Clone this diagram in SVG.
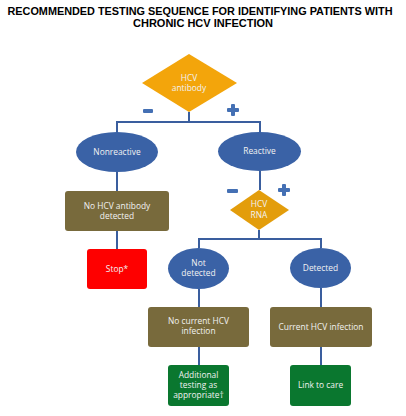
<svg xmlns="http://www.w3.org/2000/svg" width="406" height="416" viewBox="0 0 406 416">
<defs>
<style>
.t{font-family:"Liberation Sans",Arial,sans-serif;font-weight:bold;font-size:11px;fill:#000;text-anchor:middle}
.l{font-family:"Open Sans","Liberation Sans",sans-serif;font-size:8.4px;fill:#F2F2F2;text-anchor:middle}
.ell{fill:#3A62A6}
.box{fill:#786A3C}
.grn{fill:#0A772F}
.dia1{fill:#F3A50B}
.dia2{fill:#E39D0B}
.sign{fill:#4470B4}
.conn{fill:none;stroke:#3A5E9E;stroke-width:2}
</style>
</defs>
<rect width="406" height="416" fill="#fff"/>
<text class="t" x="200" y="15" textLength="385" lengthAdjust="spacingAndGlyphs">RECOMMENDED TESTING SEQUENCE FOR IDENTIFYING PATIENTS WITH</text>
<text class="t" x="203" y="27" textLength="140" lengthAdjust="spacingAndGlyphs">CHRONIC HCV INFECTION</text>

<g id="connectors">
<path class="conn" d="M189 112V122M117 132V122H260V132"/>
<path class="conn" d="M117 172V191M117 231V249"/>
<path class="conn" d="M260 171V190M259 230V239M199 248V239H321V248"/>
<path class="conn" d="M199 289V307M199 347V365M321 288V307M321 347V365"/>
</g>

<g id="signs">
<rect class="sign" x="143" y="109" width="10" height="4" rx="1"/>
<rect class="sign" x="227" y="108" width="12" height="4" rx="1"/>
<rect class="sign" x="231" y="104" width="4" height="12" rx="1"/>
<rect class="sign" x="227" y="189" width="11" height="4" rx="1"/>
<rect class="sign" x="278" y="188" width="12" height="4" rx="1"/>
<rect class="sign" x="282" y="184" width="4" height="12" rx="1"/>
</g>

<g id="hcv-antibody">
<polygon class="dia1" points="189,54 237,83 189,112 142,83"/>
<text class="l" x="189" y="81">HCV</text>
<text class="l" x="189" y="91">antibody</text>
</g>
<g id="nonreactive">
<ellipse class="ell" cx="117" cy="152" rx="41" ry="20"/>
<text class="l" x="117" y="155">Nonreactive</text>
</g>
<g id="reactive">
<ellipse class="ell" cx="259.5" cy="151.5" rx="41.5" ry="19.5"/>
<text class="l" x="259.5" y="154">Reactive</text>
</g>
<g id="no-antibody">
<rect class="box" x="65" y="191" width="104" height="40" rx="3"/>
<text class="l" x="117" y="209">No HCV antibody</text>
<text class="l" x="117" y="219">detected</text>
</g>
<g id="stop">
<rect x="87" y="249" width="60" height="40" rx="3" fill="#FE0000"/>
<text class="l" x="117" y="272">Stop*</text>
</g>
<g id="hcv-rna">
<polygon class="dia2" points="259,190 289,210 259,230 230,210"/>
<text class="l" x="259" y="207">HCV</text>
<text class="l" x="259" y="218">RNA</text>
</g>
<g id="not-detected">
<ellipse class="ell" cx="198.5" cy="268.5" rx="30.5" ry="20.5"/>
<text class="l" x="198.5" y="266">Not</text>
<text class="l" x="198.5" y="276">detected</text>
</g>
<g id="detected">
<ellipse class="ell" cx="320.5" cy="268" rx="30.5" ry="20"/>
<text class="l" x="320.5" y="271">Detected</text>
</g>
<g id="no-current">
<rect class="box" x="148" y="307" width="101" height="40" rx="3"/>
<text class="l" x="198.5" y="324">No current HCV</text>
<text class="l" x="198.5" y="334">infection</text>
</g>
<g id="current">
<rect class="box" x="270" y="307" width="102" height="40" rx="3"/>
<text class="l" x="321" y="330">Current HCV infection</text>
</g>
<g id="additional">
<rect class="grn" x="168" y="365" width="61" height="41" rx="3"/>
<text class="l" x="198.5" y="378">Additional</text>
<text class="l" x="198.5" y="388">testing as</text>
<text class="l" x="198.5" y="398">appropriate†</text>
</g>
<g id="link">
<rect class="grn" x="290" y="365" width="61" height="41" rx="3"/>
<text class="l" x="320.5" y="388">Link to care</text>
</g>
</svg>
